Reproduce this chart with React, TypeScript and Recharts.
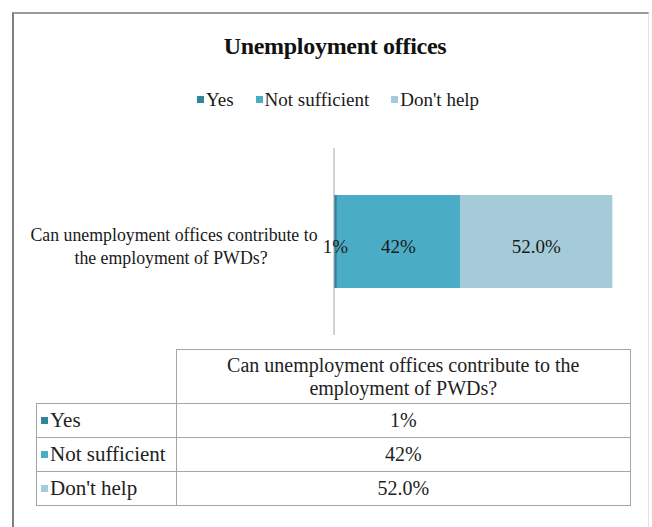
import React from "react";
import { BarChart, Bar, XAxis, YAxis, LabelList } from "recharts";

// category / series data
const question = "Can unemployment offices contribute to the employment of PWDs?";
const questionLines = ["Can unemployment offices contribute to", "the employment of PWDs?"];
const headerLines = ["Can unemployment offices contribute to the", "employment of PWDs?"];
const seriesKeys = ["yes", "notSufficient", "dontHelp"];
const seriesNames = ["Yes", "Not sufficient", "Don't help"];
const seriesValues = [0.01, 0.42, 0.52];
const seriesLabels = ["1%", "42%", "52.0%"];
const seriesColors = ["#31849b", "#4bacc6", "#a5cbd9"];

const FONT = "Liberation Serif, Times New Roman, serif";

const row: Record<string, string | number> = { name: question };
seriesKeys.forEach((k, i) => {
  row[k] = seriesValues[i];
});
const data = [row];

const CategoryTick = (props: any) => {
  const { x, y } = props;
  return (
    <text x={x - 152} y={y} textAnchor="middle" fontSize={17.8} fill="#1a1a1a" fontFamily={FONT}>
      <tspan x={x - 152} dy={-1}>
        {questionLines[0]}
      </tspan>
      <tspan x={x - 155} dy={23}>
        {questionLines[1]}
      </tspan>
    </text>
  );
};

const Swatch = ({ color }: { color: string }) => (
  <span
    style={{
      display: "inline-block",
      width: 7,
      height: 7,
      background: color,
      marginRight: 2,
      verticalAlign: "middle",
      position: "relative",
      top: -2,
    }}
  />
);

const cell: React.CSSProperties = {
  border: "1px solid #a6a6a6",
  padding: 0,
  height: 33,
  fontSize: 20,
  color: "#222",
  fontFamily: FONT,
};

export default function App() {
  return (
    <div
      style={{
        position: "absolute",
        left: 0,
        top: 0,
        width: 652,
        height: 527,
        background: "#fff",
        overflow: "hidden",
        fontFamily: FONT,
      }}
    >
      {/* frame */}
      <div
        style={{
          position: "absolute",
          left: 12,
          top: 12,
          width: 634,
          height: 540,
          borderLeft: "2px solid #7f7f7f",
          borderTop: "2px solid #9a9a9a",
          borderRight: "1px solid #e2e2e2",
        }}
      />

      {/* title */}
      <div
        style={{
          position: "absolute",
          left: 12,
          width: 646,
          top: 33,
          textAlign: "center",
          fontSize: 24,
          fontWeight: "bold",
          color: "#111",
          letterSpacing: -0.3,
        }}
      >
        Unemployment offices
      </div>

      {/* legend */}
      <div
        style={{
          position: "absolute",
          left: 12,
          width: 652,
          top: 89,
          textAlign: "center",
          fontSize: 19,
          color: "#1a1a1a",
          whiteSpace: "nowrap",
        }}
      >
        {seriesNames.map((n, i) => (
          <span key={n} style={{ marginRight: i < seriesNames.length - 1 ? 22 : 0 }}>
            <Swatch color={seriesColors[i]} />
            {n}
          </span>
        ))}
      </div>

      <div style={{ position: "absolute", left: 0, top: 0 }}>
        <BarChart
          width={652}
          height={345}
          data={data}
          layout="vertical"
          margin={{ top: 148, right: 25, left: 0, bottom: 10 }}
        >
          <XAxis type="number" domain={[0, 1]} hide />
          <YAxis
            type="category"
            dataKey="name"
            width={334}
            axisLine={{ stroke: "#a6a6a6" }}
            tickLine={false}
            tick={<CategoryTick />}
          />
          {seriesKeys.map((k, i) => (
            <Bar
              key={k}
              dataKey={k}
              name={seriesNames[i]}
              stackId="a"
              fill={seriesColors[i]}
              barSize={93}
              isAnimationActive={false}
            >
              <LabelList
                dataKey={k}
                position="center"
                formatter={() => seriesLabels[i]}
                style={{ fontSize: 19, fill: "#1a1a1a", fontFamily: FONT }}
                dy={5}
              />
            </Bar>
          ))}
        </BarChart>
      </div>

      {/* data table */}
      <table
        style={{
          position: "absolute",
          left: 36,
          top: 349,
          width: 595,
          borderCollapse: "collapse",
          fontFamily: FONT,
        }}
      >
        <tbody>
          <tr>
            <td style={{ ...cell, width: 139, height: 53, borderTop: "none", borderLeft: "none" }} />
            <td style={{ ...cell, height: 53, textAlign: "center", lineHeight: "23px" }}>
              {headerLines[0]}
              <br />
              {headerLines[1]}
            </td>
          </tr>
          {seriesNames.map((n, i) => (
            <tr key={n}>
              <td style={{ ...cell, fontSize: 21, paddingLeft: 4, whiteSpace: "nowrap" }}>
                <Swatch color={seriesColors[i]} />
                {n}
              </td>
              <td style={{ ...cell, textAlign: "center" }}>{seriesLabels[i]}</td>
            </tr>
          ))}
        </tbody>
      </table>
    </div>
  );
}
